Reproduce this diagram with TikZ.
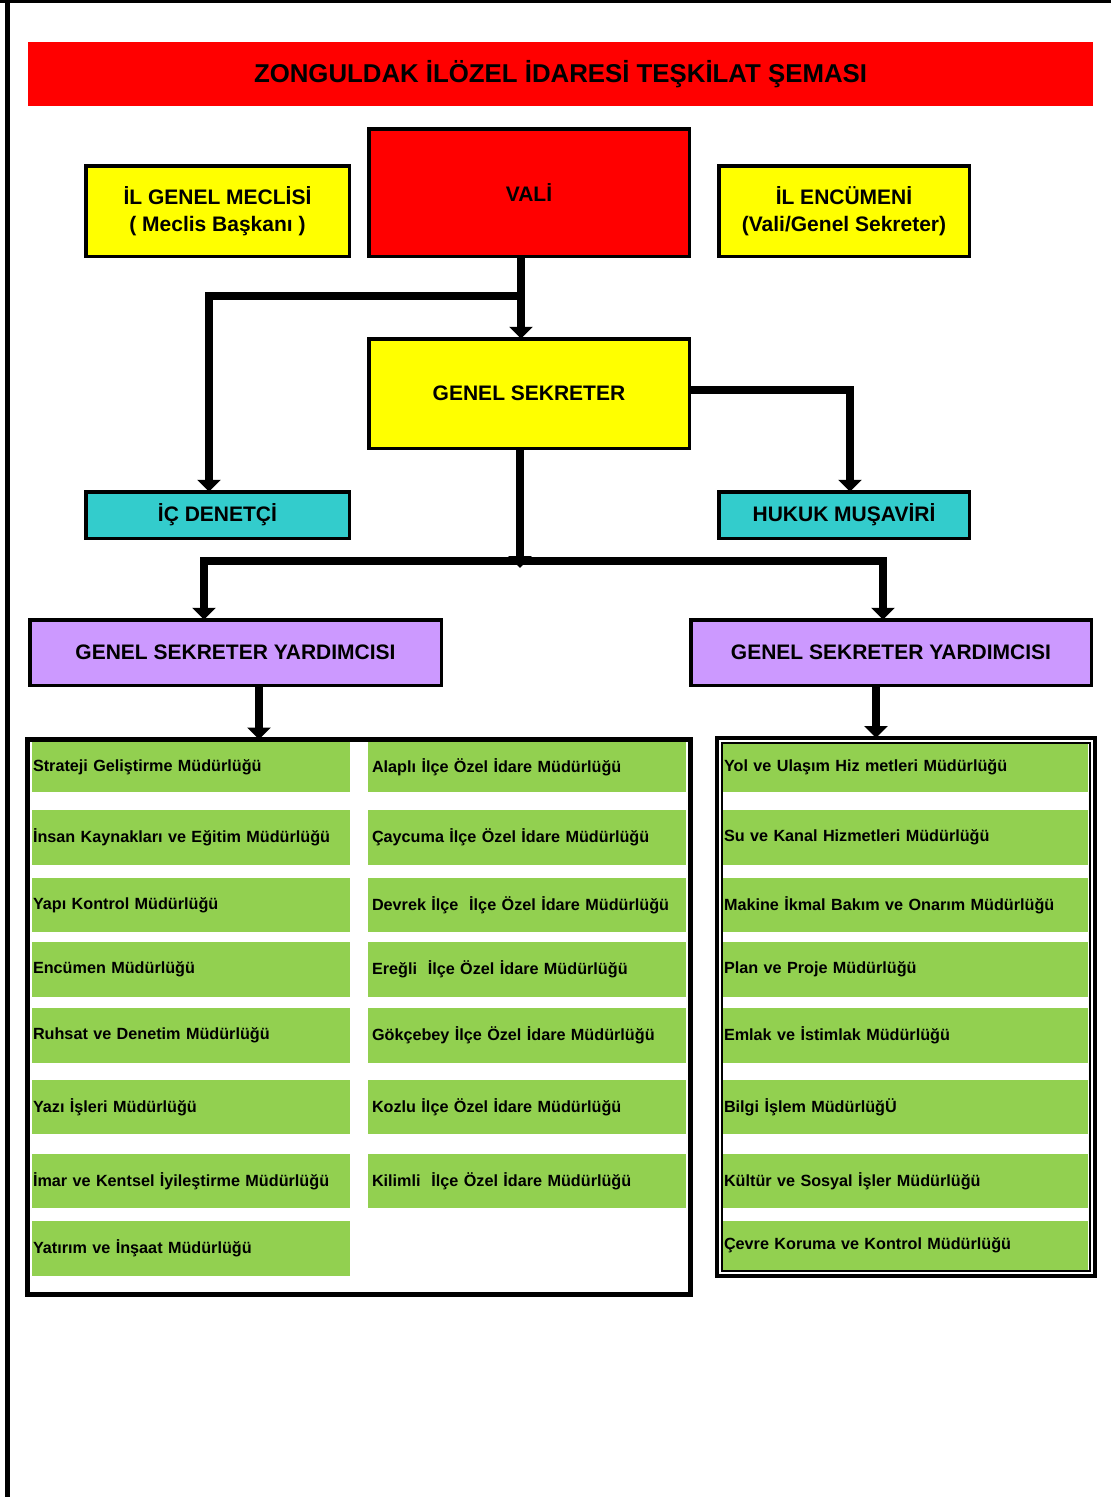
\documentclass[tikz,border=0pt]{standalone}
\usepackage{fontspec}
\setmainfont{Liberation Sans}
\usetikzlibrary{arrows.meta}
\definecolor{tred}{RGB}{255,0,0}
\definecolor{tyel}{RGB}{255,255,0}
\definecolor{tcyan}{RGB}{51,204,204}
\definecolor{tpur}{RGB}{204,153,255}
\definecolor{tgrn}{RGB}{146,208,80}
\begin{document}
\begin{tikzpicture}[x=1pt,y=-1pt,
  box/.style={draw=black, line width=3.5pt, inner sep=0pt, outer sep=0pt, font=\fontsize{21}{27}\selectfont\bfseries, align=center},
  conn/.style={line width=8pt, line join=miter, draw=black},
  arr/.style={conn, -{Triangle[width=23pt,length=12pt]}},
  grn/.style={fill=tgrn, inner ysep=0pt, outer sep=0pt, font=\fontsize{16.2}{18}\selectfont\bfseries, align=left, anchor=north west},
  frame/.style={draw=black, fill=white, inner sep=0pt, outer sep=0pt},
]
\useasboundingbox (0,0) rectangle (1111,1497);
\fill[white] (0,0) rectangle (1111,1497);
% page edges
\draw[line width=4.5pt] (7.5,0) -- (7.5,1497);
\draw[line width=3pt] (0,1.5) -- (1111,1.5);

% title
\node[fill=tred, minimum width=1065, minimum height=64, inner sep=0pt, font=\fontsize{25.8}{28}\selectfont\bfseries] (title) at (560.5,74) {ZONGULDAK İLÖZEL İDARESİ TEŞKİLAT ŞEMASI};

% boxes
\node[box, fill=tyel, minimum width=263.5, minimum height=90.5] (meclis) at (217.5,211) {İL GENEL MECLİSİ\\( Meclis Başkanı )};
\node[box, fill=tred, minimum width=320.5, minimum height=127.5] (vali) at (529,192.5) {VALİ};
\node[box, fill=tyel, minimum width=250.5, minimum height=90.5] (encumen) at (844,211) {İL ENCÜMENİ\\(Vali/Genel Sekreter)};
\node[box, fill=tyel, minimum width=320.5, minimum height=109.5] (gs) at (529,393.5) {GENEL SEKRETER};
\node[box, fill=tcyan, minimum width=263.5, minimum height=46.5] (ic) at (217.5,515) {İÇ DENETÇİ};
\node[box, fill=tcyan, minimum width=250.5, minimum height=46.5] (hukuk) at (844,515) {HUKUK MUŞAVİRİ};
\node[box, fill=tpur, minimum width=411.5, minimum height=65.5] (gsy1) at (235.5,652.5) {GENEL SEKRETER YARDIMCISI};
\node[box, fill=tpur, minimum width=400.5, minimum height=65.5] (gsy2) at (891,652.5) {GENEL SEKRETER YARDIMCISI};

% list frames
\node[frame, line width=5pt, minimum width=663, minimum height=555] (list1) at (359,1017) {};
\node[frame, line width=4pt, minimum width=378, minimum height=538] (list2) at (906,1007) {};

% left column rows
\foreach \yt/\hh/\txt [count=\i] in {
  742/50/Strateji Geliştirme Müdürlüğü,
  810/55/İnsan Kaynakları ve Eğitim Müdürlüğü,
  878/54/Yapı Kontrol Müdürlüğü,
  942/55/Encümen Müdürlüğü,
  1008/55/Ruhsat ve Denetim Müdürlüğü,
  1080/54/Yazı İşleri Müdürlüğü,
  1154/54/İmar ve Kentsel İyileştirme Müdürlüğü,
  1221/55/Yatırım ve İnşaat Müdürlüğü}
  \node[grn, inner xsep=1pt, minimum width=318, text width=316, minimum height=\hh] (L\i) at (32,\yt) {\txt};

% middle column rows
\foreach \yt/\hh/\txt [count=\i] in {
  742/50/Alaplı İlçe Özel İdare Müdürlüğü,
  810/55/Çaycuma İlçe Özel İdare Müdürlüğü,
  878/54/Devrek İlçe~ İlçe Özel İdare Müdürlüğü,
  942/55/Ereğli~ İlçe Özel İdare Müdürlüğü,
  1008/55/Gökçebey İlçe Özel İdare Müdürlüğü,
  1080/54/Kozlu İlçe Özel İdare Müdürlüğü,
  1154/54/Kilimli~ İlçe Özel İdare Müdürlüğü}
  \node[grn, inner xsep=4pt, minimum width=318, text width=310, minimum height=\hh] (M\i) at (368,\yt) {\txt};

% right column rows
\foreach \yt/\hh/\txt [count=\i] in {
  742/50/Yol ve Ulaşım Hiz metleri Müdürlüğü,
  810/55/Su ve Kanal Hizmetleri Müdürlüğü,
  878/54/Makine İkmal Bakım ve Onarım Müdürlüğü,
  942/55/Plan ve Proje Müdürlüğü,
  1008/55/Emlak ve İstimlak Müdürlüğü,
  1080/54/Bilgi İşlem MüdürlüğÜ,
  1154/54/Kültür ve Sosyal İşler Müdürlüğü,
  1221/49/Çevre Koruma ve Kontrol Müdürlüğü}
  \node[grn, inner xsep=1pt, minimum width=365, text width=363, minimum height=\hh] (R\i) at (723,\yt) {\txt};

% inner thin line of the right frame
\draw[line width=1.3pt] ([shift={(5,5)}]list2.north west) rectangle ([shift={(-5,-5)}]list2.south east);

% connectors
\coordinate (j1) at (521,296);
\coordinate (kic) at (209,0);
\coordinate (khu) at (850,0);
\coordinate (yh) at (0,390);
\coordinate (j2) at (520,561);
\coordinate (j2t) at (520,568);
\coordinate (kl) at (204,0);
\coordinate (kr) at (883,0);
\coordinate (kg1) at (259,0);
\coordinate (kg2) at (876,0);

\draw[arr] (vali.south -| j1) -- (gs.north -| j1);
\draw[arr] (j1) -| (ic.north -| kic);
\draw[arr] (gs.east |- yh) -| (hukuk.north -| khu);
\draw[arr] (j2) -| (gsy1.north -| kl);
\draw[arr] (j2) -| (gsy2.north -| kr);
\draw[arr] (gs.south -| j2) -- (j2t);
\draw[arr] (gsy1.south -| kg1) -- (list1.north -| kg1);
\draw[arr] (gsy2.south -| kg2) -- (list2.north -| kg2);
\end{tikzpicture}
\end{document}
